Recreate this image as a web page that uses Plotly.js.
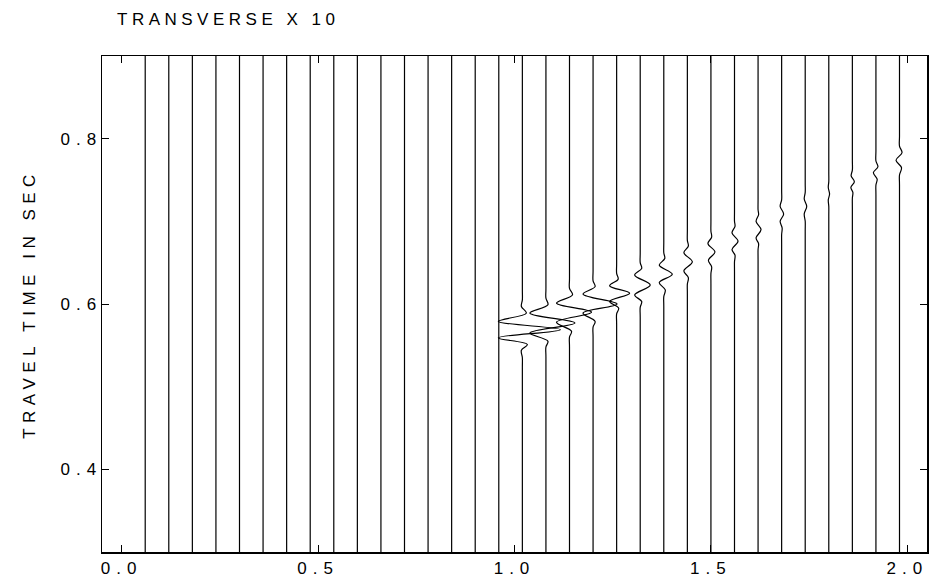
<!DOCTYPE html>
<html>
<head>
<meta charset="utf-8">
<script src="https://cdn.plot.ly/plotly-3.0.1.min.js"></script>
<style>
  html, body { margin: 0; padding: 0; background: #fff; }
  #chart { width: 939px; height: 581px; }
  #chart .gtitle { letter-spacing: 4.5px; }
  #chart .g-ytitle text { letter-spacing: 5.5px; }
  #chart .xtick text, #chart .ytick text { letter-spacing: 6px; }
</style>
</head>
<body>
<div id="chart"></div>
<script>
// Trace (station) offsets along the x axis
const traceOffsets = [0.06, 0.12, 0.18, 0.24, 0.30, 0.36, 0.42, 0.48, 0.54, 0.60, 0.66,
  0.72, 0.78, 0.84, 0.90, 0.96, 1.02, 1.08, 1.14, 1.20, 1.26, 1.32, 1.38, 1.44, 1.50,
  1.56, 1.62, 1.68, 1.74, 1.80, 1.86, 1.92, 1.98];

// Time window of each trace
const timeStart = 0.3;
const timeEnd = 0.9;

// Traces (1-based index into traceOffsets) that carry a visible arrival
const wiggleTraceIndex = [17, 18, 19, 20, 21, 22, 23, 24, 25, 26, 27, 28, 29, 30, 31, 32, 33];

// Times (s) of the wiggle turning points
const wiggleTimes = [
  [0.523, 0.535, 0.544, 0.551, 0.559, 0.569, 0.579, 0.589, 0.597, 0.605, 0.617],
  [0.536, 0.548, 0.555, 0.565, 0.577, 0.589, 0.599, 0.607, 0.619],
  [0.548, 0.560, 0.567, 0.578, 0.590, 0.601, 0.611, 0.619, 0.631],
  [0.560, 0.572, 0.579, 0.589, 0.600, 0.612, 0.621, 0.628, 0.640],
  [0.576, 0.588, 0.595, 0.603, 0.613, 0.622, 0.630, 0.637, 0.649],
  [0.584, 0.596, 0.603, 0.611, 0.623, 0.635, 0.643, 0.650, 0.662],
  [0.597, 0.609, 0.617, 0.626, 0.636, 0.647, 0.655, 0.662, 0.674],
  [0.612, 0.624, 0.632, 0.640, 0.651, 0.662, 0.670, 0.677, 0.689],
  [0.625, 0.637, 0.645, 0.653, 0.663, 0.673, 0.681, 0.688, 0.700],
  [0.639, 0.651, 0.659, 0.666, 0.676, 0.686, 0.694, 0.700, 0.712],
  [0.654, 0.666, 0.673, 0.680, 0.690, 0.700, 0.708, 0.714, 0.726],
  [0.672, 0.684, 0.692, 0.700, 0.709, 0.718, 0.726, 0.738],
  [0.688, 0.700, 0.709, 0.718, 0.727, 0.735, 0.747],
  [0.706, 0.718, 0.726, 0.733, 0.741, 0.748, 0.760],
  [0.716, 0.728, 0.735, 0.741, 0.748, 0.755, 0.762, 0.774],
  [0.732, 0.744, 0.751, 0.759, 0.766, 0.773, 0.785],
  [0.744, 0.756, 0.765, 0.774, 0.783, 0.791, 0.803]
];

// Horizontal deflection (x-axis units, transverse amplitude x 10) at those times
const wiggleDeflections = [
  [0, 0, -0.0025, 0.0127, -0.0611, 0.0967, -0.0611, 0.0102, -0.0025, 0, 0],
  [0, 0, 0.0051, -0.0407, 0.0738, -0.0407, 0.0051, 0, 0],
  [0, 0, 0.0051, -0.0331, 0.0560, -0.0331, 0.0076, 0, 0],
  [0, 0, 0.0051, -0.0255, 0.0611, -0.0255, 0.0051, 0, 0],
  [0, 0, 0.0051, -0.0178, 0.0331, -0.0178, 0.0038, 0, 0],
  [0, 0, 0.0038, -0.0140, 0.0255, -0.0140, 0.0038, 0, 0],
  [0, 0, 0.0038, -0.0115, 0.0216, -0.0115, 0.0025, 0, 0],
  [0, 0, 0.0025, -0.0089, 0.0127, -0.0089, 0.0025, 0, 0],
  [0, 0, 0.0018, -0.0064, 0.0102, -0.0076, 0.0018, 0, 0],
  [0, 0, 0.0013, -0.0064, 0.0089, -0.0064, 0.0013, 0, 0],
  [0, 0, 0.0013, -0.0051, 0.0076, -0.0051, 0.0013, 0, 0],
  [0, 0, 0.0013, -0.0038, 0.0051, -0.0038, 0, 0],
  [0, 0, -0.0025, 0.0038, -0.0025, 0, 0],
  [0, 0, -0.0013, 0.0020, -0.0013, 0, 0],
  [0, 0, 0.0013, -0.0038, 0.0051, -0.0031, 0, 0],
  [0, 0, 0.0031, -0.0064, 0.0051, 0, 0],
  [0, 0, 0.0051, -0.0089, 0.0064, 0, 0]
];

// Axis ticks
const xTickVals = [0, 0.5, 1.0, 1.5, 2.0];
const xTickText = ['0.0', '0.5', '1.0', '1.5', '2.0'];
const yTickVals = [0.4, 0.6, 0.8];
const yTickText = ['0.4', '0.6', '0.8'];

const traces = traceOffsets.map((off, i) => {
  const w = wiggleTraceIndex.indexOf(i + 1);
  let xs = [off], ys = [timeStart];
  if (w >= 0) {
    wiggleTimes[w].forEach((t, j) => { xs.push(off + wiggleDeflections[w][j]); ys.push(t); });
  }
  xs.push(off); ys.push(timeEnd);
  return {
    x: xs, y: ys, type: 'scatter', mode: 'lines',
    line: { color: '#000', width: 1.2, shape: 'spline', smoothing: 1 },
    hoverinfo: 'skip', showlegend: false
  };
});

const font = { family: 'Liberation Sans, Arial, Helvetica, sans-serif', size: 17, color: '#000' };

const layout = {
  width: 939, height: 581,
  margin: { l: 102, r: 12, t: 56, b: 29 },
  paper_bgcolor: '#fff', plot_bgcolor: '#fff',
  font: font,
  title: {
    text: 'TRANSVERSE X 10', font: font,
    x: 117 / 939, xref: 'container', xanchor: 'left',
    y: 1 - 19 / 581, yref: 'container', yanchor: 'middle'
  },
  xaxis: {
    range: [-0.05, 2.05], tickmode: 'array', tickvals: xTickVals, ticktext: xTickText,
    ticks: 'inside', ticklen: 7, tickwidth: 1, tickcolor: '#000',
    showline: true, linecolor: '#000', linewidth: 1.5, mirror: 'ticks',
    showgrid: false, zeroline: false, tickfont: font
  },
  yaxis: {
    range: [0.3, 0.9], tickmode: 'array', tickvals: yTickVals, ticktext: yTickText,
    ticks: 'inside', ticklen: 7, tickwidth: 1, tickcolor: '#000',
    showline: true, linecolor: '#000', linewidth: 1.5, mirror: 'ticks',
    showgrid: false, zeroline: false, tickfont: font, ticklabelstandoff: -5,
    title: { text: 'TRAVEL TIME IN SEC', font: font, standoff: 38 }
  },
  showlegend: false
};

Plotly.newPlot('chart', traces, layout, { staticPlot: true, displayModeBar: false });
</script>
</body>
</html>
